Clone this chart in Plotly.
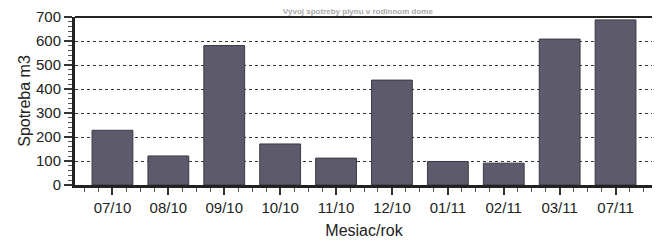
import plotly.graph_objects as go

categories = ["07/10", "08/10", "09/10", "10/10", "11/10", "12/10", "01/11", "02/11", "03/11", "07/11"]
values = [228, 121, 581, 171, 112, 437, 98, 91, 608, 688]
y_ticks = [0, 100, 200, 300, 400, 500, 600, 700]

positions = list(range(len(categories)))

fig = go.Figure()
fig.add_trace(go.Bar(
    x=positions, y=values, width=0.73,
    marker=dict(color="#5d5b6b", line=dict(color="#3a3946", width=1)),
))

font = "Liberation Sans, Arial, sans-serif"
# the page adds an 8px body margin, so the figure is offset by 8px right/down
fig.update_layout(
    width=660, height=249,
    margin=dict(l=67, r=15, t=9, b=72),
    paper_bgcolor="white", plot_bgcolor="white",
    showlegend=False,
    font=dict(family=font, color="#222222"),
    title=dict(text="<b>Vývoj spotreby plynu v rodinnom dome</b>",
               x=0.53, xanchor="center", y=0.998, yref="container", yanchor="top",
               font=dict(size=8, color="#a8a8a8")),
    xaxis=dict(
        range=[-0.67, 9.67], automargin=False,
        tickmode="array", tickvals=positions, ticktext=categories,
        ticks="outside", ticklen=7, tickwidth=1.5, tickcolor="#333",
        minor=dict(dtick=0.25, tick0=0, ticks="outside", ticklen=4, tickwidth=1, tickcolor="#555", showgrid=False),
        showgrid=False, zeroline=False,
        showline=True, linecolor="#222", linewidth=3,
        tickfont=dict(size=15, color="#222"),
        title=dict(text="Mesiac/rok", font=dict(size=16, color="#222"), standoff=10),
    ),
    yaxis=dict(
        range=[0, 700], automargin=False,
        tickmode="array", tickvals=y_ticks,
        ticks="outside", ticklen=8, tickwidth=1.5, tickcolor="#333",
        minor=dict(dtick=20, tick0=0, ticks="outside", ticklen=4, tickwidth=1, tickcolor="#555", showgrid=False),
        showgrid=True, gridcolor="#333", griddash="dot", gridwidth=1,
        zeroline=False,
        showline=True, linecolor="#222", linewidth=3,
        tickfont=dict(size=15, color="#222"),
        title=dict(text="Spotreba m3", font=dict(size=16, color="#222"), standoff=2),
    ),
)
# top and right frame of the plot area
fig.add_shape(type="line", xref="paper", yref="paper", x0=0, x1=1, y0=1, y1=1,
              line=dict(color="#222", width=2))
fig.add_shape(type="line", xref="paper", yref="paper", x0=1, x1=1, y0=0, y1=1,
              line=dict(color="#222", width=1.5))

fig.write_html("out.html")
